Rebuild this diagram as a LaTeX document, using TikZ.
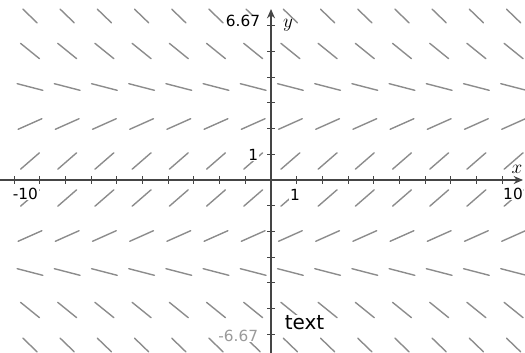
\documentclass[tikz,border=0pt]{standalone}
\usepackage{fontspec}
\newfontfamily\labfont{DejaVu Sans}
\usetikzlibrary{arrows.meta}
\definecolor{segcol}{HTML}{8C8C8C}
\definecolor{axcol}{HTML}{454545}
\definecolor{lowcol}{HTML}{9A9A9A}
\tikzset{
  seg/.style={draw=segcol,line width=1.05pt,line cap=round},
  axisline/.style={draw=axcol,line width=1.6pt},
  tickmark/.style={draw=axcol,line width=0.7pt},
  numlab/.style={font=\labfont\fontsize{11.5}{12}\selectfont,fill=white,inner sep=0.5pt,text=black},
  varlab/.style={font=\fontsize{14}{15}\selectfont,inner sep=0.5pt}
}
\begin{document}
\begin{tikzpicture}[x=0.75pt,y=-0.75pt]
\useasboundingbox (0,0) rectangle (525,353);
% slope field
\foreach \cy/\a/\l in {16/-44/19.5, 51/-39/24.4, 87/-14.5/26.5, 124/24/26, 161/41/25,
                        198/41/25, 236/24/26, 272/-14.5/26.5, 310/-39/24.4, 345/-44/19.5}{
  \foreach \i in {0,...,13}{
    \pgfmathsetmacro{\cx}{30+37.2*\i}
    \pgfmathsetmacro{\hl}{\l/2}
    \pgfmathsetmacro{\na}{-\a}
    \pgfmathsetmacro{\ba}{180-\a}
    \draw[seg] (\cx,\cy) ++(\na:\hl) -- ++(\ba:\l);
  }
}
% axes
\coordinate (O) at (271,180);
\coordinate (xl) at (0,180);
\coordinate (xr) at (523,180);
\coordinate (yb) at (271,353);
\coordinate (yt) at (271,9);
\foreach \k in {-10,...,9}{
  \draw[tickmark] ({271+25.7*\k},176) -- ++(0,8);
}
\foreach \k in {-6,...,6}{
  \draw[tickmark] (267,{180-25.7*\k}) -- ++(8,0);
}
\draw[axisline,-{Stealth[length=7pt,width=6pt]}] (xl) -- (xr);
\draw[axisline,-{Stealth[length=7pt,width=6pt]}] (yb) -- (yt);
% labels
\node[numlab,anchor=east] (ymax) at (261,21) {6.67};
\node[varlab] (ylab) at (288,25) {$y$};
\node[varlab,fill=white] (xlab) at (517,169) {$x$};
\node[numlab] (xmax) at (513,194) {10};
\node[numlab,anchor=west] (xmin) at (12,194) {-10};
\node[numlab] (xone) at (295,195) {1};
\node[numlab,anchor=east] (yone) at (259,154.5) {1};
\node[numlab,text=lowcol,anchor=east] (ymin) at (259,335.5) {-6.67};
\node[font=\labfont\fontsize{15}{16}\selectfont,fill=white,inner sep=0.5pt] (txt) at (304.5,323) {text};
\end{tikzpicture}
\end{document}
